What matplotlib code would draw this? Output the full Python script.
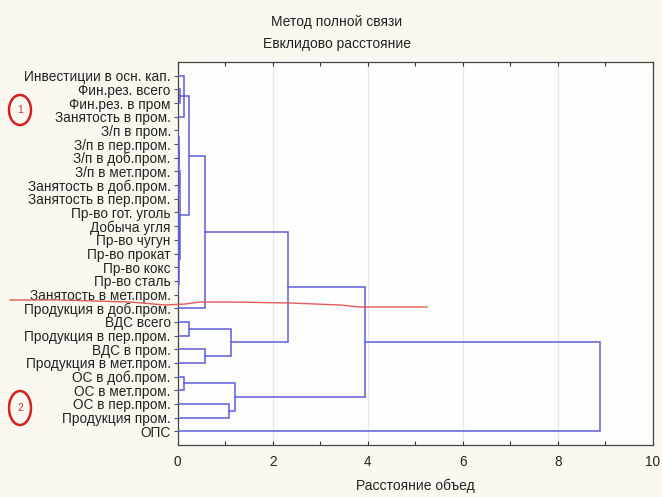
import matplotlib
matplotlib.use("Agg")
import matplotlib.pyplot as plt
from matplotlib.patches import Ellipse
from matplotlib.lines import Line2D

plt.rcParams['font.family'] = ['Liberation Sans', 'DejaVu Sans']

# ---------------- data ----------------
labels = [
    "Инвестиции в осн. кап.", "Фин.рез. всего", "Фин.рез. в пром", "Занятость в пром.",
    "З/п в пром.", "З/п в пер.пром.", "З/п в доб.пром.", "З/п в мет.пром.",
    "Занятость в доб.пром.", "Занятость в пер.пром.", "Пр-во гот. уголь", "Добыча угля",
    "Пр-во чугун", "Пр-во прокат", "Пр-во кокс", "Пр-во сталь",
    "Занятость в мет.пром.", "Продукция в доб.пром.", "ВДС всего", "Продукция в пер.пром.",
    "ВДС в пром.", "Продукция в мет.пром.", "ОС в доб.пром.", "ОС в мет.пром.",
    "ОС в пер.пром.", "Продукция пром.", "ОПС",
]
# merges: (child_a, child_b, linkage distance); ids >= len(labels) are earlier clusters
merges = [
    (4, 5, 0.010),    # 27
    (6, 7, 0.010),    # 28
    (27, 28, 0.020),  # 29
    (8, 9, 0.015),    # 30
    (29, 30, 0.030),  # 31
    (10, 11, 0.010),  # 32
    (12, 13, 0.005),  # 33
    (32, 33, 0.020),  # 34
    (14, 15, 0.005),  # 35
    (35, 16, 0.015),  # 36
    (34, 36, 0.030),  # 37
    (31, 37, 0.050),  # 38
    (1, 2, 0.055),    # 39
    (0, 3, 0.140),    # 40
    (39, 40, 0.150),  # 41
    (41, 38, 0.240),  # 42
    (42, 17, 0.580),  # 43
    (18, 19, 0.240),  # 44
    (20, 21, 0.580),  # 45
    (44, 45, 1.130),  # 46
    (43, 46, 2.320),  # 47
    (22, 23, 0.130),  # 48
    (24, 25, 1.070),  # 49
    (48, 49, 1.210),  # 50
    (47, 50, 3.940),  # 51
    (51, 26, 8.890),  # 52
]
xticks = [0, 2, 4, 6, 8, 10]
title_lines = ["Метод полной связи", "Евклидово расстояние"]
xlabel = "Расстояние объед"

# hand-drawn annotation path (figure pixel coords from top-left)
red_line_x = [10, 60, 130, 165, 185, 200, 230, 290, 340, 360, 400, 427]
red_line_y = [300, 300, 302, 305, 304, 302, 302, 303, 305, 307, 307, 307]

# ---------------- figure ----------------
W, H = 662, 497
fig = plt.figure(figsize=(W / 100, H / 100), dpi=100, facecolor='#fbf9ef')
ax = fig.add_axes([177.7 / W, 1 - 445 / H, (652.7 - 177.7) / W, (445 - 62) / H])
ax.set_facecolor('#fefefc')

n = len(labels)
ypos = {i: float(i) for i in range(n)}
hgt = {i: 0.0 for i in range(n)}
col = '#5d5dda'
for k, (a, b, h) in enumerate(merges):
    cid = n + k
    ya, yb = ypos[a], ypos[b]
    ax.plot([hgt[a], h, h, hgt[b]], [ya, ya, yb, yb], color=col, lw=1.1,
            solid_joinstyle='miter', zorder=3)
    ypos[cid] = (ya + yb) / 2
    hgt[cid] = h

ax.set_xlim(0, 10)
ax.set_ylim(n, -1)
ax.set_xticks(xticks)
ax.set_xticks([1, 3, 5, 7, 9], minor=True)
ax.set_xticklabels([str(t) for t in xticks], fontsize=9.8)
ax.set_yticks(range(n))
ax.set_yticklabels(labels, fontsize=9.8)
ax.tick_params(axis='x', which='both', direction='in', top=True, length=3, width=0.8, pad=7, colors='#333333')
ax.tick_params(axis='x', labelcolor='#222222')
ax.tick_params(axis='y', direction='out', length=3, width=0.8, pad=2, colors='#555555', labelcolor='#222222')
ax.grid(axis='x', which='major', color='#e4e4ec', lw=0.8, zorder=0)
for s in ax.spines.values():
    s.set_color('#444444')
    s.set_linewidth(0.9)
ax.set_xlabel(xlabel, fontsize=10, labelpad=7, color='#222222')

fig.text(337 / W, 1 - 22 / H, title_lines[0], ha='center', va='center', fontsize=10, color='#222222')
fig.text(337 / W, 1 - 44 / H, title_lines[1], ha='center', va='center', fontsize=10, color='#222222')

# red hand annotations
fig.add_artist(Line2D([x / W for x in red_line_x], [1 - y / H for y in red_line_y],
                      transform=fig.transFigure, color='#e05a5a', lw=1.0))
for cx, cy, txt, eh in [(20, 110, "1", 30), (20, 408, "2", 34)]:
    fig.add_artist(Ellipse((cx / W, 1 - cy / H), 22 / W, eh / H, transform=fig.transFigure,
                           fill=False, edgecolor='#d42020', lw=1.8))
    fig.text(cx / W, 1 - cy / H, txt, ha='center', va='center', fontsize=7.5, color='#d03030')

fig.savefig("out.png", dpi=100, facecolor=fig.get_facecolor())
